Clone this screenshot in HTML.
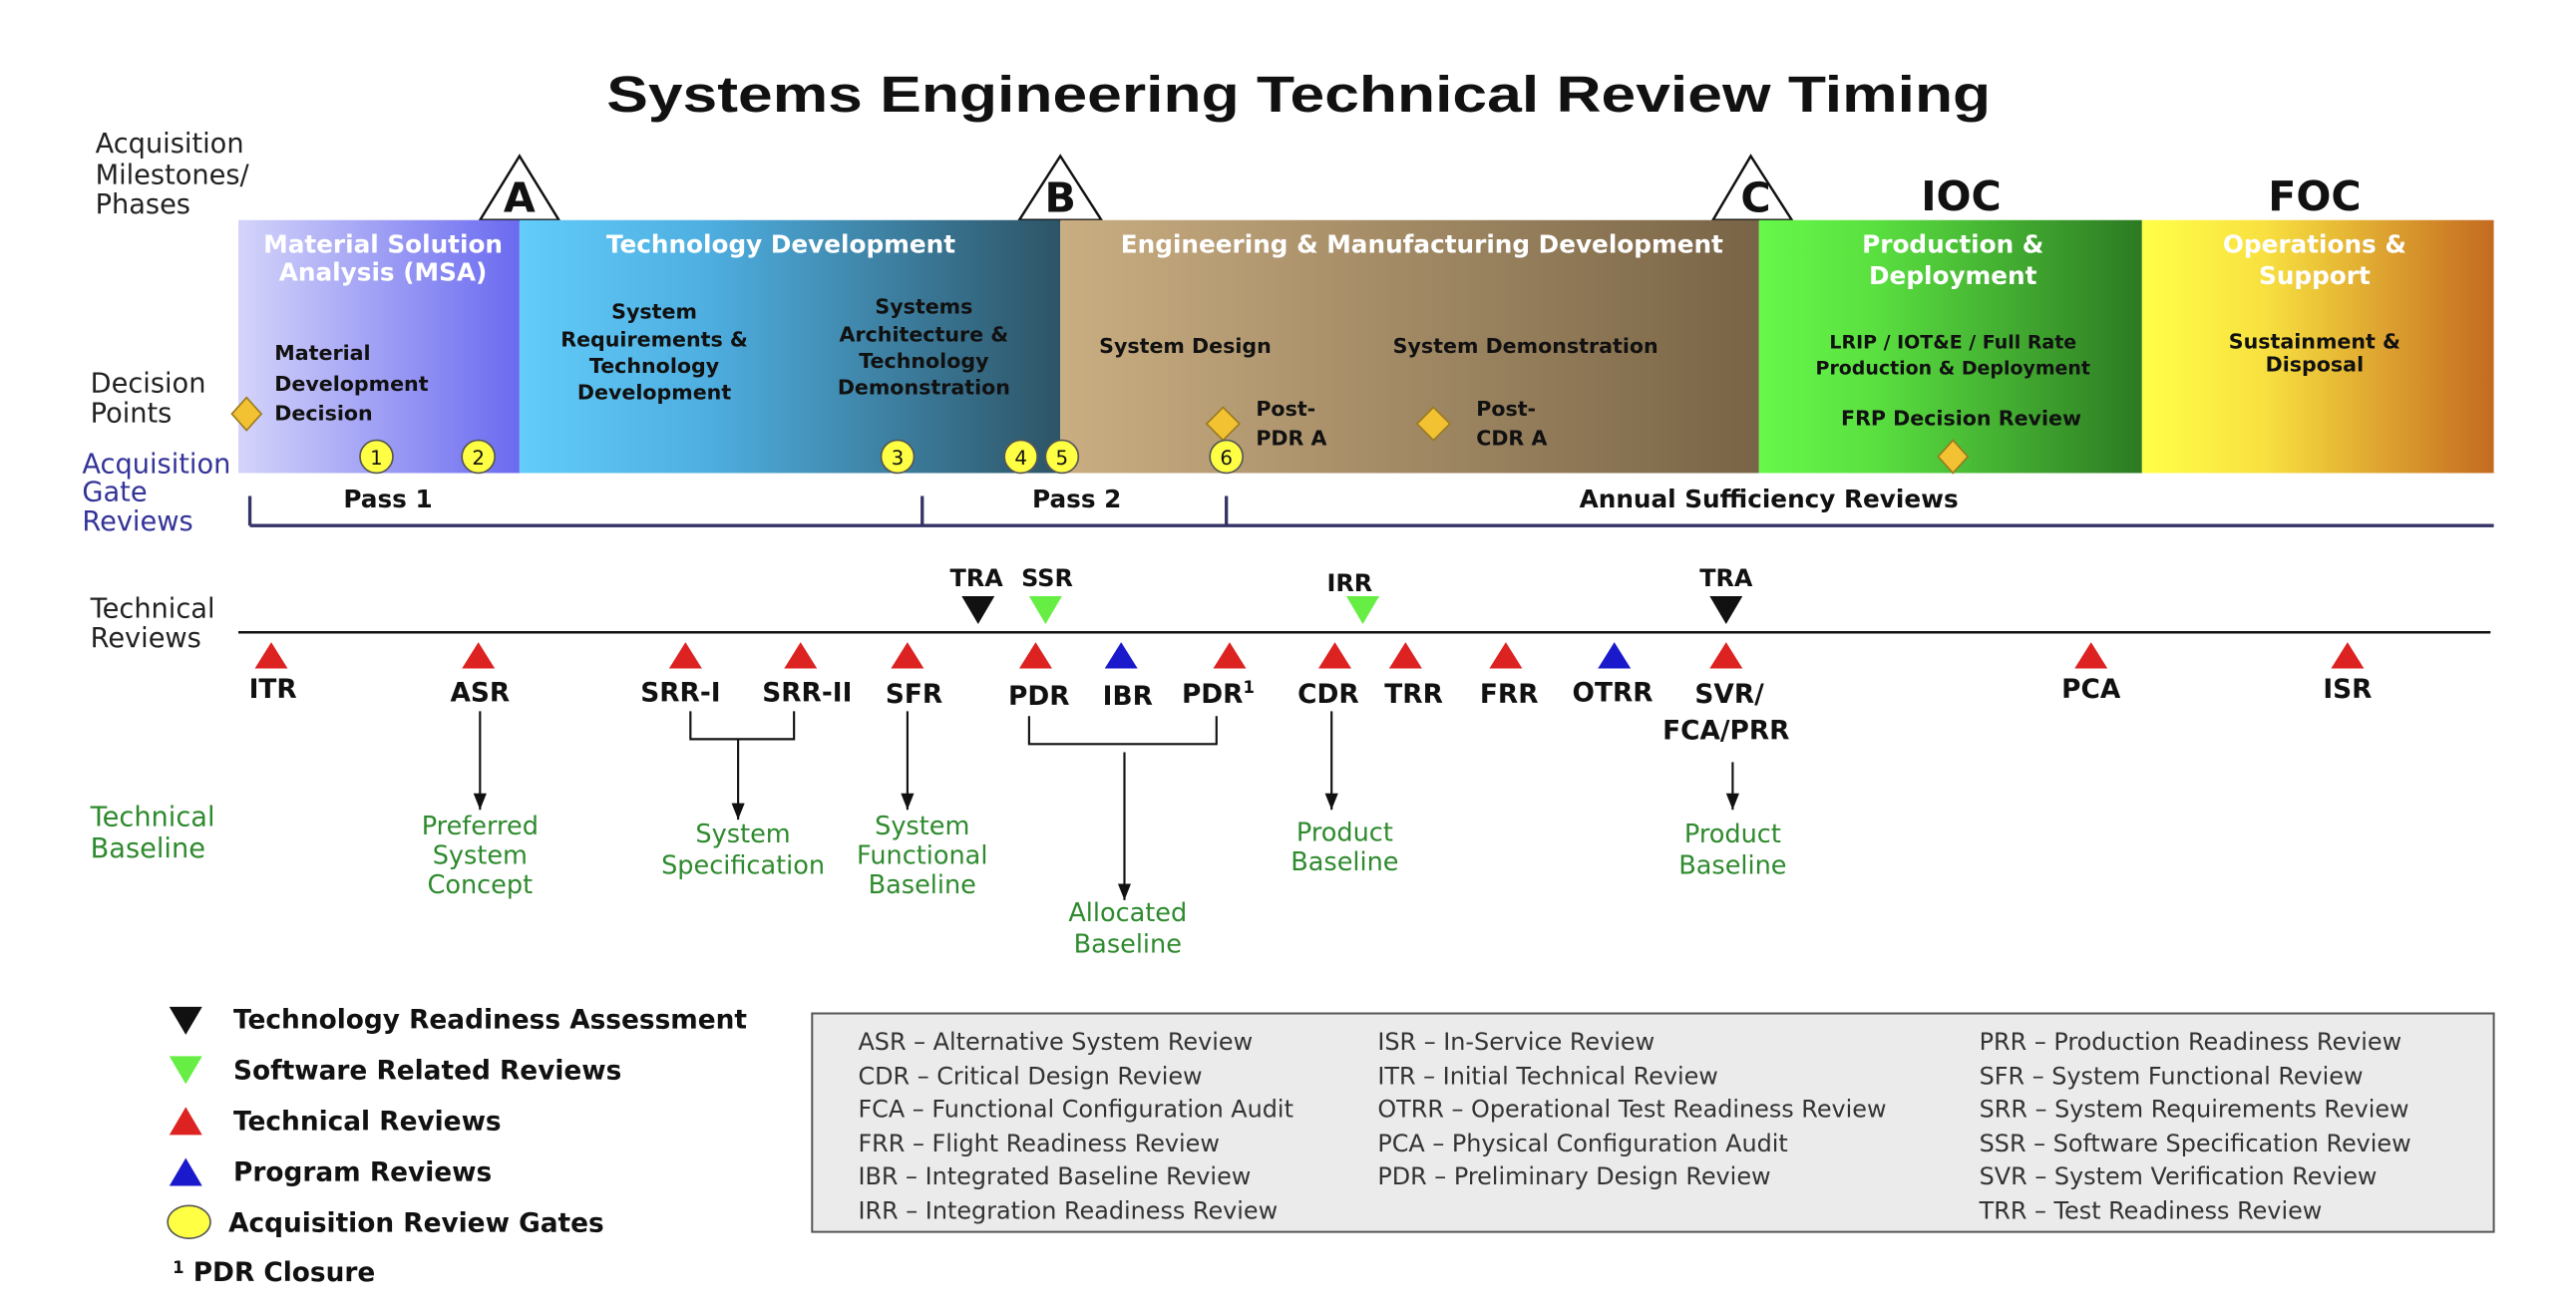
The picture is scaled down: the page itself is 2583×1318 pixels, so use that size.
<!DOCTYPE html>
<html><head><meta charset="utf-8"><style>
html,body{margin:0;padding:0;background:#fff;}
svg{display:block;}
text{font-family:"DejaVu Sans","Liberation Sans",sans-serif;}
.b{font-weight:bold;}
.lab{font-size:16.5px;fill:#222;}
.wh{font-size:15px;font-weight:bold;fill:#fff;text-anchor:middle;}
.dk{font-size:12.5px;font-weight:bold;fill:#111;}
.rv{font-size:16px;font-weight:bold;fill:#111;text-anchor:middle;}
.gr{font-size:15.5px;fill:#2e8a2e;text-anchor:middle;}
.lg{font-size:16px;font-weight:bold;fill:#111;}
.ab{font-size:14.5px;fill:#333;}
</style></head><body>
<svg width="2583" height="1318" viewBox="0 0 1567 800" preserveAspectRatio="none" xmlns="http://www.w3.org/2000/svg">
<defs>
<linearGradient id="g1" x1="0" x2="1"><stop offset="0" stop-color="#d4d4fa"/><stop offset="1" stop-color="#6a6af0"/></linearGradient>
<linearGradient id="g2" x1="0" x2="1"><stop offset="0" stop-color="#62ccfa"/><stop offset="0.35" stop-color="#4eaee0"/><stop offset="1" stop-color="#2d5466"/></linearGradient>
<linearGradient id="g3" x1="0" x2="1"><stop offset="0" stop-color="#caae82"/><stop offset="1" stop-color="#786446"/></linearGradient>
<linearGradient id="g4" x1="0" x2="1"><stop offset="0" stop-color="#66f84a"/><stop offset="0.3" stop-color="#5ae040"/><stop offset="1" stop-color="#2c7a22"/></linearGradient>
<linearGradient id="g5" x1="0" x2="1"><stop offset="0" stop-color="#ffff48"/><stop offset="0.35" stop-color="#f8e040"/><stop offset="1" stop-color="#c46a20"/></linearGradient>
<marker id="ar" markerWidth="10" markerHeight="8" refX="10" refY="4" orient="auto" markerUnits="userSpaceOnUse"><path d="M0,0 L10,4 L0,8 Z" fill="#111"/></marker>
</defs>

<text x="790" y="68" text-anchor="middle" font-size="31" fill="#111" style="font-family:'Liberation Sans',sans-serif;font-weight:bold" textLength="842" lengthAdjust="spacingAndGlyphs">Systems Engineering Technical Review Timing</text>

<text class="lab" x="58" y="93">Acquisition</text>
<text class="lab" x="58" y="112">Milestones/</text>
<text class="lab" x="58" y="130">Phases</text>
<text class="lab" x="55" y="239">Decision</text>
<text class="lab" x="55" y="257">Points</text>
<text class="lab" x="50" y="288" style="fill:#333399">Acquisition</text>
<text class="lab" x="50" y="305" style="fill:#333399">Gate</text>
<text class="lab" x="50" y="323" style="fill:#333399">Reviews</text>
<text class="lab" x="55" y="376">Technical</text>
<text class="lab" x="55" y="394">Reviews</text>
<text class="lab" x="55" y="503" style="fill:#2e8a2e">Technical</text>
<text class="lab" x="55" y="522" style="fill:#2e8a2e">Baseline</text>

<g fill="#fff" stroke="#111" stroke-width="1.5">
<path d="M316,95 L292,134 L340,134 Z"/>
<path d="M645,95 L620,134 L670,134 Z"/>
<path d="M1065,95 L1042,134 L1090,134 Z"/>
</g>
<g font-size="25" fill="#111" text-anchor="middle" style="font-family:'Liberation Sans',sans-serif;font-weight:bold">
<text x="316" y="129">A</text><text x="645" y="129">B</text><text x="1068" y="129">C</text>
<text x="1193" y="128">IOC</text><text x="1408" y="128">FOC</text>
</g>

<rect x="145" y="134" width="171" height="154" fill="url(#g1)"/>
<rect x="316" y="134" width="329" height="154" fill="url(#g2)"/>
<rect x="645" y="134" width="425" height="154" fill="url(#g3)"/>
<rect x="1070" y="134" width="233" height="154" fill="url(#g4)"/>
<rect x="1303" y="134" width="214" height="154" fill="url(#g5)"/>

<text class="wh" x="233" y="154">Material Solution</text>
<text class="wh" x="233" y="171">Analysis (MSA)</text>
<text class="wh" x="475" y="154">Technology Development</text>
<text class="wh" x="865" y="154">Engineering &amp; Manufacturing Development</text>
<text class="wh" x="1188" y="154">Production &amp;</text>
<text class="wh" x="1188" y="173">Deployment</text>
<text class="wh" x="1408" y="154">Operations &amp;</text>
<text class="wh" x="1408" y="173">Support</text>

<text class="dk" x="167" y="219">Material</text>
<text class="dk" x="167" y="238">Development</text>
<text class="dk" x="167" y="256">Decision</text>
<g class="dk" text-anchor="middle">
<text x="398" y="194">System</text><text x="398" y="211">Requirements &amp;</text><text x="398" y="227">Technology</text><text x="398" y="243">Development</text>
<text x="562" y="191">Systems</text><text x="562" y="208">Architecture &amp;</text><text x="562" y="224">Technology</text><text x="562" y="240">Demonstration</text>
<text x="721" y="215">System Design</text>
<text x="928" y="215">System Demonstration</text>
<text x="1188" y="212" font-size="11.5">LRIP / IOT&amp;E / Full Rate</text>
<text x="1188" y="228" font-size="11.5">Production &amp; Deployment</text>
<text x="1193" y="259">FRP Decision Review</text>
<text x="1408" y="212">Sustainment &amp;</text>
<text x="1408" y="226">Disposal</text>
</g>
<text class="dk" x="764" y="253">Post-</text><text class="dk" x="764" y="271">PDR A</text>
<text class="dk" x="898" y="253">Post-</text><text class="dk" x="898" y="271">CDR A</text>

<g fill="#f2c232" stroke="#9a7a20" stroke-width="1">
<path d="M150,242 L159,252 L150,262 L141,252 Z"/>
<path d="M744,248 L754,258 L744,268 L734,258 Z"/>
<path d="M872,248 L882,258 L872,268 L862,258 Z"/>
<path d="M1188,268 L1197,278 L1188,288 L1179,278 Z"/>
</g>
<g fill="#ffff44" stroke="#555" stroke-width="1">
<ellipse cx="229" cy="278" rx="10" ry="10"/><ellipse cx="291" cy="278" rx="10" ry="10"/>
<ellipse cx="546" cy="278" rx="10" ry="10"/><ellipse cx="621" cy="278" rx="10" ry="10"/>
<ellipse cx="646" cy="278" rx="10" ry="10"/><ellipse cx="746" cy="278" rx="10" ry="10"/>
</g>
<g font-size="12" fill="#111" text-anchor="middle">
<text x="229" y="283">1</text><text x="291" y="283">2</text><text x="546" y="283">3</text>
<text x="621" y="283">4</text><text x="646" y="283">5</text><text x="746" y="283">6</text>
</g>

<g stroke="#333366" stroke-width="2" fill="none">
<path d="M152,320 L1517,320"/>
<path d="M152,302 L152,320 M561,302 L561,320 M746,302 L746,320"/>
</g>
<g class="b" font-size="15" fill="#111" text-anchor="middle">
<text x="236" y="309">Pass 1</text><text x="655" y="309">Pass 2</text><text x="1076" y="309">Annual Sufficiency Reviews</text>
</g>

<line x1="145" y1="385" x2="1515" y2="385" stroke="#111" stroke-width="1.5"/>
<g class="b" font-size="14.5" fill="#111" text-anchor="middle">
<text x="594" y="357">TRA</text><text x="637" y="357">SSR</text><text x="821" y="360">IRR</text><text x="1050" y="357">TRA</text>
</g>
<path d="M585,363 L605,363 L595,380 Z" fill="#111"/>
<path d="M626,363 L646,363 L636,380 Z" fill="#66ee44"/>
<path d="M819,363 L839,363 L829,380 Z" fill="#66ee44"/>
<path d="M1040,363 L1060,363 L1050,380 Z" fill="#111"/>

<g fill="#dd2222">
<path d="M155,407 L175,407 L165,391 Z"/><path d="M281,407 L301,407 L291,391 Z"/>
<path d="M407,407 L427,407 L417,391 Z"/><path d="M477,407 L497,407 L487,391 Z"/>
<path d="M542,407 L562,407 L552,391 Z"/><path d="M620,407 L640,407 L630,391 Z"/>
<path d="M738,407 L758,407 L748,391 Z"/><path d="M802,407 L822,407 L812,391 Z"/>
<path d="M845,407 L865,407 L855,391 Z"/><path d="M906,407 L926,407 L916,391 Z"/>
<path d="M1040,407 L1060,407 L1050,391 Z"/><path d="M1262,407 L1282,407 L1272,391 Z"/>
<path d="M1418,407 L1438,407 L1428,391 Z"/>
</g>
<g fill="#1a1acc">
<path d="M672,407 L692,407 L682,391 Z"/><path d="M972,407 L992,407 L982,391 Z"/>
</g>
<g class="rv">
<text x="166" y="425">ITR</text><text x="292" y="427">ASR</text><text x="414" y="427">SRR-I</text>
<text x="491" y="427">SRR-II</text><text x="556" y="428">SFR</text><text x="632" y="429">PDR</text>
<text x="686" y="429">IBR</text><text x="741" y="428">PDR<tspan font-size="10" dy="-6">1</tspan></text>
<text x="808" y="428">CDR</text><text x="860" y="428">TRR</text><text x="918" y="428">FRR</text>
<text x="981" y="427">OTRR</text><text x="1052" y="428">SVR/</text><text x="1050" y="450">FCA/PRR</text>
<text x="1272" y="425">PCA</text><text x="1428" y="425">ISR</text>
</g>

<g stroke="#111" stroke-width="1.3" fill="none">
<path d="M292,433 L292,493" marker-end="url(#ar)"/>
<path d="M420,433 L420,450 L483,450 L483,433"/>
<path d="M449,450 L449,499" marker-end="url(#ar)"/>
<path d="M552,433 L552,493" marker-end="url(#ar)"/>
<path d="M626,436 L626,453 L740,453 L740,436"/>
<path d="M684,458 L684,548" marker-end="url(#ar)"/>
<path d="M810,433 L810,493" marker-end="url(#ar)"/>
<path d="M1054,464 L1054,493" marker-end="url(#ar)"/>
</g>
<g class="gr">
<text x="292" y="508">Preferred</text><text x="292" y="526">System</text><text x="292" y="544">Concept</text>
<text x="452" y="513">System</text><text x="452" y="532">Specification</text>
<text x="561" y="508">System</text><text x="561" y="526">Functional</text><text x="561" y="544">Baseline</text>
<text x="686" y="561">Allocated</text><text x="686" y="580">Baseline</text>
<text x="818" y="512">Product</text><text x="818" y="530">Baseline</text>
<text x="1054" y="513">Product</text><text x="1054" y="532">Baseline</text>
</g>

<path d="M103,613 L123,613 L113,630 Z" fill="#111"/>
<path d="M103,643 L123,643 L113,660 Z" fill="#66ee44"/>
<path d="M103,691 L123,691 L113,674 Z" fill="#dd2222"/>
<path d="M103,722 L123,722 L113,705 Z" fill="#1a1acc"/>
<ellipse cx="115" cy="744" rx="13" ry="10" fill="#ffff44" stroke="#555"/>
<text class="lg" x="142" y="626">Technology Readiness Assessment</text>
<text class="lg" x="142" y="657">Software Related Reviews</text>
<text class="lg" x="142" y="688">Technical Reviews</text>
<text class="lg" x="142" y="719">Program Reviews</text>
<text class="lg" x="139" y="750">Acquisition Review Gates</text>
<text class="lg" x="105" y="780"><tspan font-size="10" dy="-5">1</tspan><tspan dy="5"> PDR Closure</tspan></text>

<rect x="494" y="617" width="1023" height="133" fill="#ebebeb" stroke="#555" stroke-width="1.2"/>
<g class="ab">
<text x="522" y="639">ASR – Alternative System Review</text>
<text x="522" y="660">CDR – Critical Design Review</text>
<text x="522" y="680">FCA – Functional Configuration Audit</text>
<text x="522" y="701">FRR – Flight Readiness Review</text>
<text x="522" y="721">IBR – Integrated Baseline Review</text>
<text x="522" y="742">IRR – Integration Readiness Review</text>
<text x="838" y="639">ISR – In-Service Review</text>
<text x="838" y="660">ITR – Initial Technical Review</text>
<text x="838" y="680">OTRR – Operational Test Readiness Review</text>
<text x="838" y="701">PCA – Physical Configuration Audit</text>
<text x="838" y="721">PDR – Preliminary Design Review</text>
<text x="1204" y="639">PRR – Production Readiness Review</text>
<text x="1204" y="660">SFR – System Functional Review</text>
<text x="1204" y="680">SRR – System Requirements Review</text>
<text x="1204" y="701">SSR – Software Specification Review</text>
<text x="1204" y="721">SVR – System Verification Review</text>
<text x="1204" y="742">TRR – Test Readiness Review</text>
</g>
</svg>
</body></html>
